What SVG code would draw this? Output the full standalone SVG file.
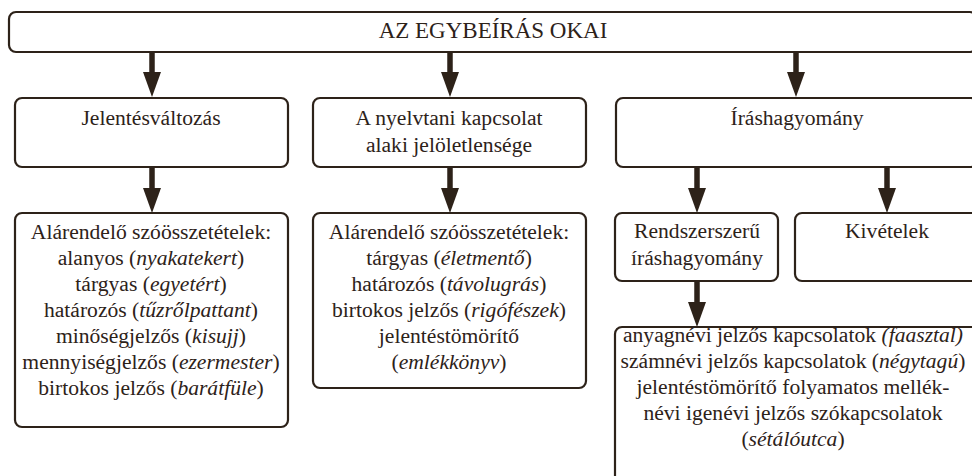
<svg xmlns="http://www.w3.org/2000/svg" width="972" height="476" viewBox="0 0 972 476">
<defs>
  <marker id="ah" markerUnits="userSpaceOnUse" viewBox="0 0 25 18" markerWidth="25" markerHeight="18" refX="8" refY="9" orient="auto">
    <path d="M0 0L25 9L0 18Z" fill="#2d2219"/>
  </marker>
</defs>
<rect width="972" height="476" fill="#fff"/>
<g id="connectors" stroke="#2d2219" stroke-width="5.5" fill="none" marker-end="url(#ah)">
  <path d="M152 52V80"/>
  <path d="M450 52V80"/>
  <path d="M796 52V80"/>
  <path d="M152 167V196"/>
  <path d="M450 167V196"/>
  <path d="M697 167V196"/>
  <path d="M887 167V196"/>
  <path d="M697 281V310"/>
</g>
<g font-family="Liberation Serif" font-size="21.6" fill="#2d2219" text-anchor="middle">
<g id="root">
  <rect x="9" y="12" width="968" height="40" rx="7" fill="#fff" stroke="#2d2219" stroke-width="2.2"/>
  <text x="493" y="38" font-size="23">AZ EGYBEÍRÁS OKAI</text>
</g>
<g id="jelentesvaltozas">
  <rect x="15" y="98" width="273" height="69" rx="7" fill="#fff" stroke="#2d2219" stroke-width="2.2"/>
  <text x="151" y="125">Jelentésváltozás</text>
</g>
<g id="nyelvtani">
  <rect x="313" y="98" width="273" height="69" rx="7" fill="#fff" stroke="#2d2219" stroke-width="2.2"/>
  <text x="449" y="125">A nyelvtani kapcsolat</text>
  <text x="449" y="152">alaki jelöletlensége</text>
</g>
<g id="irashagyomany">
  <rect x="616" y="98" width="362" height="69" rx="7" fill="#fff" stroke="#2d2219" stroke-width="2.2"/>
  <text x="797" y="125">Íráshagyomány</text>
</g>
<g id="alarendelo1">
  <rect x="15" y="213" width="273" height="214" rx="7" fill="#fff" stroke="#2d2219" stroke-width="2.2"/>
  <text x="151" y="239">Alárendelő szóösszetételek:</text>
  <text x="151" y="265">alanyos (<tspan font-style="italic">nyakatekert</tspan>)</text>
  <text x="151" y="291">tárgyas (<tspan font-style="italic">egyetért</tspan>)</text>
  <text x="151" y="317">határozós (<tspan font-style="italic">tűzrőlpattant</tspan>)</text>
  <text x="151" y="343">minőségjelzős (<tspan font-style="italic">kisujj</tspan>)</text>
  <text x="151" y="369">mennyiségjelzős (<tspan font-style="italic">ezermester</tspan>)</text>
  <text x="151" y="395">birtokos jelzős (<tspan font-style="italic">barátfüle</tspan>)</text>
</g>
<g id="alarendelo2">
  <rect x="313" y="213" width="273" height="175" rx="7" fill="#fff" stroke="#2d2219" stroke-width="2.2"/>
  <text x="449" y="239">Alárendelő szóösszetételek:</text>
  <text x="449" y="265">tárgyas (<tspan font-style="italic">életmentő</tspan>)</text>
  <text x="449" y="291">határozós (<tspan font-style="italic">távolugrás</tspan>)</text>
  <text x="449" y="317">birtokos jelzős (<tspan font-style="italic">rigófészek</tspan>)</text>
  <text x="449" y="343">jelentéstömörítő</text>
  <text x="449" y="369">(<tspan font-style="italic">emlékkönyv</tspan>)</text>
</g>
<g id="rendszerszeru">
  <rect x="615" y="213" width="163" height="68" rx="7" fill="#fff" stroke="#2d2219" stroke-width="2.2"/>
  <text x="697" y="238">Rendszerszerű</text>
  <text x="697" y="265">íráshagyomány</text>
</g>
<g id="kivetelek">
  <rect x="795" y="213" width="185" height="68" rx="7" fill="#fff" stroke="#2d2219" stroke-width="2.2"/>
  <text x="887" y="238">Kivételek</text>
</g>
<g id="peldak">
  <rect x="615" y="327" width="365" height="160" rx="7" fill="#fff" stroke="#2d2219" stroke-width="2.2"/>
  <text x="793" y="342">anyagnévi jelzős kapcsolatok <tspan font-style="italic">(faasztal)</tspan></text>
  <text x="793" y="368">számnévi jelzős kapcsolatok (<tspan font-style="italic">négytagú</tspan>)</text>
  <text x="793" y="394">jelentéstömörítő folyamatos mellék-</text>
  <text x="793" y="420">névi igenévi jelzős szókapcsolatok</text>
  <text x="793" y="446">(<tspan font-style="italic">sétálóutca</tspan>)</text>
</g>
</g>
</svg>
